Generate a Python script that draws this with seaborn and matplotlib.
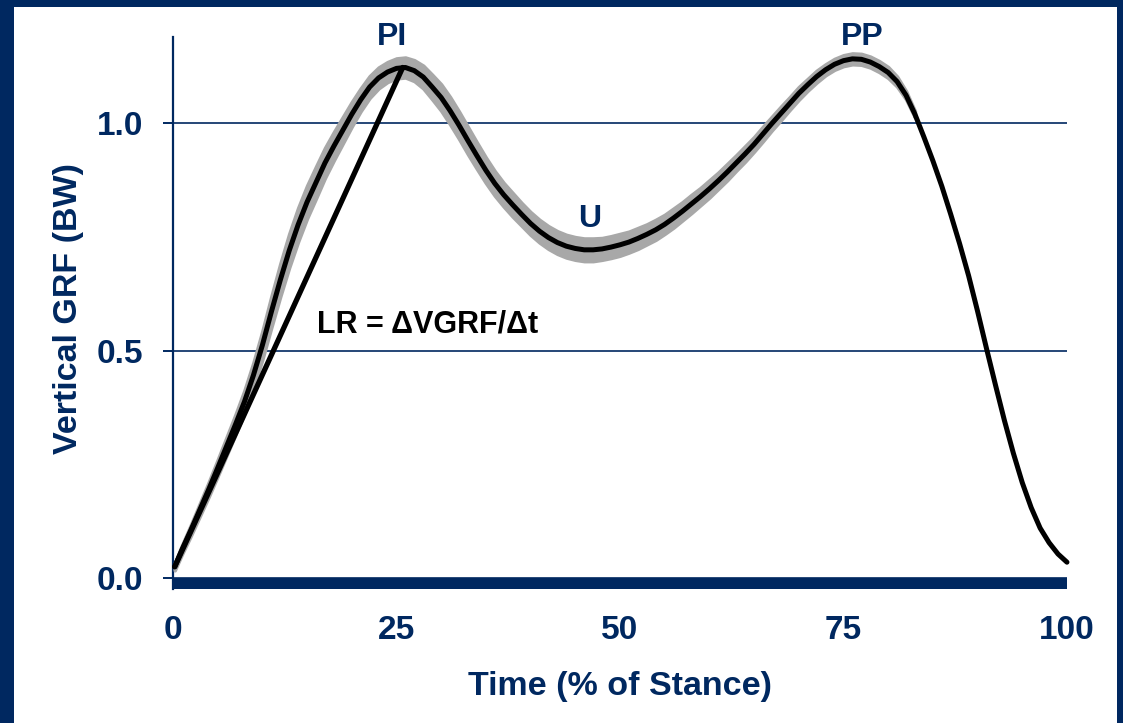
import matplotlib
matplotlib.use("Agg")
import matplotlib.pyplot as plt
from matplotlib.patches import Rectangle
import numpy as np
import pandas as pd
import seaborn as sns

# Mean vertical ground reaction force over stance (body weights)
stance_pct = [0.2] + list(range(1, 101))
vgrf_bw = [0.025, 0.062, 0.105, 0.150, 0.195, 0.242, 0.290, 0.338, 0.388, 0.446,
           0.512, 0.585, 0.655, 0.720, 0.777, 0.827, 0.870, 0.913, 0.950, 0.985,
           1.020, 1.052, 1.080, 1.100, 1.113, 1.121, 1.123, 1.116, 1.102, 1.080,
           1.057, 1.028, 0.996, 0.962, 0.929, 0.897, 0.868, 0.843, 0.821, 0.800,
           0.780, 0.763, 0.749, 0.738, 0.730, 0.725, 0.722, 0.722, 0.724, 0.728,
           0.733, 0.739, 0.747, 0.756, 0.766, 0.778, 0.792, 0.807, 0.823, 0.839,
           0.856, 0.874, 0.893, 0.913, 0.933, 0.954, 0.977, 1.000, 1.022, 1.044,
           1.066, 1.085, 1.103, 1.118, 1.130, 1.138, 1.142, 1.141, 1.135, 1.125,
           1.112, 1.092, 1.062, 1.020, 0.970, 0.918, 0.862, 0.800, 0.735, 0.665,
           0.587, 0.505, 0.425, 0.347, 0.275, 0.210, 0.155, 0.110, 0.078, 0.053,
           0.035]

# Between-subject spread (± SD) shown as the grey envelope, 0.2 % to 83 %
band_sd = [0.008, 0.010, 0.012, 0.014, 0.016, 0.018, 0.020, 0.022, 0.025, 0.028,
           0.031, 0.034, 0.036, 0.037, 0.037, 0.036, 0.035, 0.033, 0.031, 0.029,
           0.027, 0.025, 0.024, 0.023, 0.022, 0.022, 0.022, 0.023, 0.025, 0.027,
           0.029, 0.030, 0.030, 0.030, 0.029, 0.028, 0.027, 0.026, 0.026, 0.025,
           0.025, 0.025, 0.025, 0.025, 0.025, 0.025, 0.025, 0.025, 0.024, 0.024,
           0.024, 0.023, 0.023, 0.022, 0.022, 0.021, 0.021, 0.020, 0.020, 0.019,
           0.019, 0.018, 0.018, 0.017, 0.017, 0.016, 0.016, 0.015, 0.015, 0.014,
           0.014, 0.013, 0.013, 0.012, 0.012, 0.012, 0.012, 0.012, 0.012, 0.012,
           0.012, 0.011, 0.009, 0.007]

# Loading-rate chord from foot strike to the impact peak
lr_pct = [0.2, 25.7]
lr_bw = [0.025, 1.123]

x_ticks = [0, 25, 50, 75, 100]
y_ticks = [0.0, 0.5, 1.0]

event_labels = ["PI", "U", "PP"]
event_pct = [24.5, 46.6, 77.1]
event_bw = [1.189, 0.789, 1.189]

NAVY = "#002860"
GREY = "#a8a8a8"

sns.set_theme(style="white")
plt.rcParams["font.family"] = ["Liberation Sans", "DejaVu Sans"]
plt.rcParams["font.weight"] = "bold"

fig = plt.figure(figsize=(11.23, 7.23), dpi=100, facecolor="white")
ax = fig.add_axes([0.1540, 0.1853, 0.7961, 0.7635])

curve = pd.DataFrame({"pct": stance_pct, "bw": vgrf_bw})
n_band = len(band_sd)
band = pd.DataFrame({"pct": stance_pct[:n_band],
                     "lo": np.array(vgrf_bw[:n_band]) - np.array(band_sd),
                     "hi": np.array(vgrf_bw[:n_band]) + np.array(band_sd)})
chord = pd.DataFrame({"pct": lr_pct, "bw": lr_bw})

ax.fill_between(band["pct"], band["lo"], band["hi"], color=GREY, lw=2.5,
                edgecolor=GREY, zorder=3)
sns.lineplot(data=curve, x="pct", y="bw", ax=ax, color="black", lw=3.6,
             solid_capstyle="round", solid_joinstyle="round", zorder=4,
             clip_on=False)
sns.lineplot(data=chord, x="pct", y="bw", ax=ax, color="black", lw=3.8,
             solid_capstyle="round", zorder=4, clip_on=False)

# thick baseline under the zero level
ax.axhspan(-0.024, 0.0, color=NAVY, lw=0, zorder=2)

ax.set_xlim(0, 100)
ax.set_ylim(-0.024, 1.19)
ax.set_xticks(x_ticks)
ax.set_xticklabels([str(v) for v in x_ticks])
ax.set_yticks(y_ticks)
ax.set_yticklabels([f"{v:.1f}" for v in y_ticks])

ax.grid(axis="y", color=NAVY, lw=1.2)
ax.grid(axis="x", visible=False)
ax.set_axisbelow(True)

for side in ["top", "right", "bottom"]:
    ax.spines[side].set_visible(False)
ax.spines["left"].set_color(NAVY)
ax.spines["left"].set_linewidth(1.6)

ax.tick_params(axis="y", which="both", left=True, length=7.5, width=1.4,
               color=NAVY, direction="out", pad=14, labelsize=24,
               labelcolor=NAVY)
ax.tick_params(axis="x", which="both", bottom=False, length=0, pad=19,
               labelsize=24, labelcolor=NAVY)
for lab in ax.get_xticklabels() + ax.get_yticklabels():
    lab.set_fontweight("bold")

ax.set_xlabel("Time (% of Stance)", fontsize=24.5, fontweight="bold", color=NAVY)
ax.set_ylabel("Vertical GRF (BW)", fontsize=24.5, fontweight="bold", color=NAVY)
ax.xaxis.set_label_coords(0.5, -0.148)
ax.yaxis.set_label_coords(-0.100, 0.509)

for lab, px, py in zip(event_labels, event_pct, event_bw):
    ax.text(px, py, lab, ha="center", va="center", fontsize=23,
            fontweight="bold", color=NAVY, zorder=5)

ax.text(16.1, 0.557, "LR = \u0394VGRF/\u0394t", ha="left", va="center",
        fontsize=22, fontweight="bold", color="black", zorder=5)

# navy slide frame around the chart
W, H = 1123, 723
for (x0, y0, w, h) in [(0, 0, 14, H), (0, H - 7, W, 7), (W - 6, 0, 6, H)]:
    fig.patches.append(Rectangle((x0 / W, y0 / H), w / W, h / H,
                                 transform=fig.transFigure, color=NAVY,
                                 lw=0, zorder=10))

fig.savefig("out.png", dpi=100, facecolor="white")
